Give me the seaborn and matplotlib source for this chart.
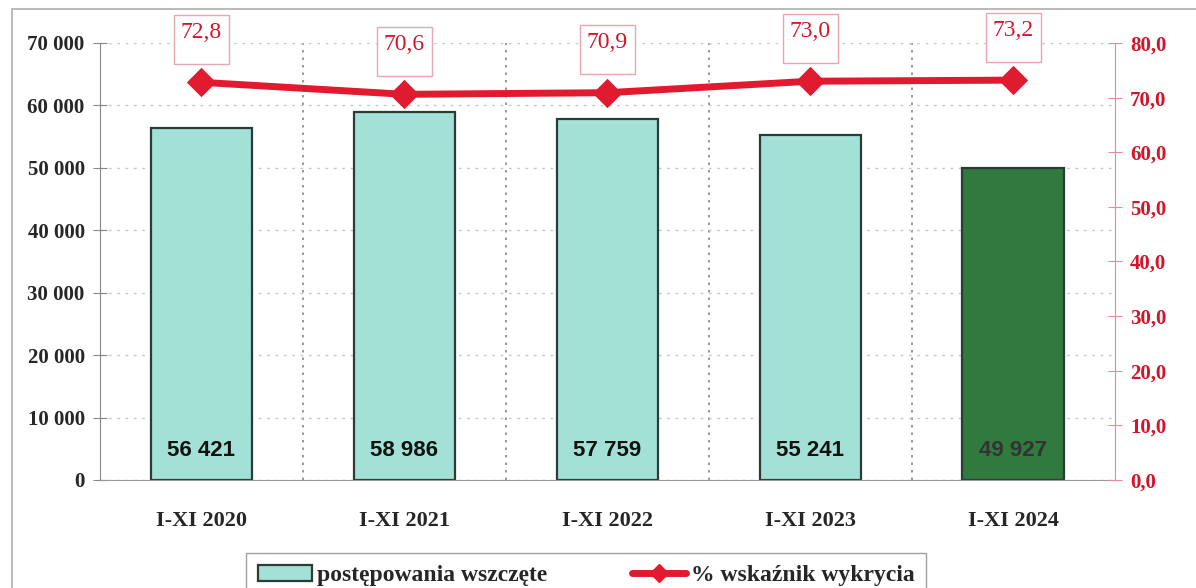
import matplotlib
matplotlib.use("Agg")
import matplotlib.pyplot as plt
import seaborn as sns
from matplotlib.lines import Line2D
from matplotlib.patches import Patch

# data
periods = ["I-XI 2020", "I-XI 2021", "I-XI 2022", "I-XI 2023", "I-XI 2024"]
cases = [56421, 58986, 57759, 55241, 49927]
detect_pct = [72.8, 70.6, 70.9, 73.0, 73.2]
case_labels = ["56 421", "58 986", "57 759", "55 241", "49 927"]
pct_labels = ["72,8", "70,6", "70,9", "73,0", "73,2"]
left_ticks = [0, 10000, 20000, 30000, 40000, 50000, 60000, 70000]
left_tick_labels = ["0", "10 000", "20 000", "30 000", "40 000", "50 000", "60 000", "70 000"]
right_ticks = [0, 10, 20, 30, 40, 50, 60, 70, 80]
right_tick_labels = ["0,0", "10,0", "20,0", "30,0", "40,0", "50,0", "60,0", "70,0", "80,0"]

teal = "#A3E1D7"
dark_green = "#2F7A3C"
red = "#E01B2F"
red_txt = "#D4142A"

sns.set_style("white")
plt.rcParams["font.family"] = ["Liberation Serif", "DejaVu Serif"]

fig = plt.figure(figsize=(11.96, 5.88), dpi=100)
ax = fig.add_axes([0.0836, 0.1837, 0.8484, 0.7432])

sns.barplot(x=periods, y=cases, hue=periods, palette=[teal] * 4 + [dark_green],
            legend=False, width=0.5, edgecolor="#2b3b36", linewidth=1.6, ax=ax,
            saturation=1)

ax.set_ylim(0, 70000)
ax.set_xlim(-0.5, 4.5)
ax.set_yticks(left_ticks)
ax.set_yticklabels(left_tick_labels, fontsize=15, fontweight="bold")
ax.set_xticks(range(len(periods)))
ax.set_xticklabels(periods, fontsize=16, fontweight="bold")
ax.tick_params(axis="x", length=0, pad=22)
ax.tick_params(axis="y", direction="inout", length=10, color="#888888", pad=6)
ax.set_xticks([0.5, 1.5, 2.5, 3.5], minor=True)
ax.tick_params(axis="x", which="minor", direction="inout", length=10, color="#999999")
ax.grid(axis="y", linestyle=(0, (2, 4)), color="#c8c8c8", linewidth=1)
ax.grid(axis="x", which="minor", linestyle=(0, (1.5, 3)), color="#888888", linewidth=1.2)
ax.set_axisbelow(True)
for s in ["top", "right"]:
    ax.spines[s].set_visible(False)
ax.spines["left"].set_color("#888888")
ax.spines["bottom"].set_color("#999999")
ax.set_xlabel("")
ax.set_ylabel("")

# value labels at the foot of each bar
for i, lab in enumerate(case_labels):
    ax.text(i, 4700, lab, ha="center", va="center", fontsize=16, fontweight="bold",
            family="Liberation Sans",
            color="#333333" if i == 4 else "#111111")

ax2 = ax.twinx()
sns.pointplot(x=periods, y=detect_pct, ax=ax2, color=red, markers="D",
              markersize=11, linewidth=5)
ax2.set_ylim(0, 80)
ax2.set_xlim(-0.5, 4.5)
ax2.set_yticks(right_ticks)
ax2.set_yticklabels(right_tick_labels, fontsize=15, fontweight="bold", color=red_txt)
ax2.tick_params(axis="y", direction="inout", length=10, color="#e58a9a", pad=6)
for s in ["top", "left", "bottom"]:
    ax2.spines[s].set_visible(False)
ax2.spines["right"].set_color("#e58a9a")
ax2.set_ylabel("")
ax2.grid(False)

for i, lab in enumerate(pct_labels):
    ax2.annotate(lab + "\n", (i, detect_pct[i]), xytext=(0, 31), textcoords="offset points",
                 ha="center", va="center", fontsize=17, color=red_txt, linespacing=0.55,
                 bbox=dict(boxstyle="square,pad=0.3", fc="white", ec="#e7a6b0", lw=1))

# legend
handles = [
    Patch(facecolor=teal, edgecolor="#2b3b36", linewidth=1.6, label="postępowania wszczęte"),
    Line2D([0], [0], color=red, lw=5, marker="D", markersize=9, label="% wskaźnik wykrycia"),
]
fig.legend(handles=handles, loc="upper center", bbox_to_anchor=(0.49, 0.072), ncol=2,
           frameon=True, fancybox=False, edgecolor="#888888",
           prop={"weight": "bold", "size": 17}, columnspacing=3.6, handlelength=2.3,
           handletextpad=0.2, borderpad=0.5, borderaxespad=0.3)

# outer chart frame
fig.add_artist(Line2D([12 / 1196, 12 / 1196], [0, 1 - 9 / 588], transform=fig.transFigure,
                      color="#bbbbbb", lw=1.5))
fig.add_artist(Line2D([12 / 1196, 1], [1 - 9 / 588, 1 - 9 / 588], transform=fig.transFigure,
                      color="#bbbbbb", lw=1.5))

fig.savefig("out.png", dpi=100)
